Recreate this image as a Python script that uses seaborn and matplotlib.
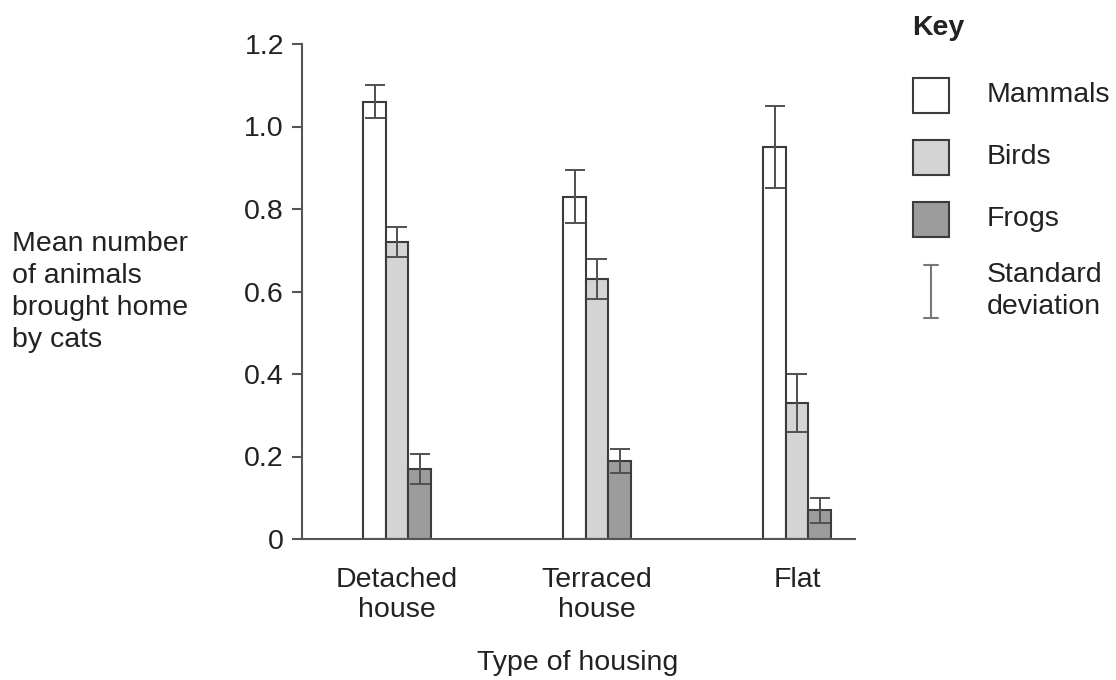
import matplotlib
matplotlib.use("Agg")
import matplotlib.pyplot as plt
import numpy as np
import pandas as pd
import seaborn as sns
from matplotlib.patches import Rectangle
from matplotlib.lines import Line2D

# ---- data ----
HOUSING = ["Detached\nhouse", "Terraced\nhouse", "Flat"]
ANIMALS = ["Mammals", "Birds", "Frogs"]
MAMMALS_MEAN = [1.06, 0.83, 0.95]
BIRDS_MEAN = [0.72, 0.63, 0.33]
FROGS_MEAN = [0.17, 0.19, 0.07]
MAMMALS_SD = [0.04, 0.065, 0.10]
BIRDS_SD = [0.037, 0.048, 0.07]
FROGS_SD = [0.036, 0.029, 0.03]
Y_TICKS = [0, 0.2, 0.4, 0.6, 0.8, 1.0, 1.2]
Y_TICK_LABELS = ["0", "0.2", "0.4", "0.6", "0.8", "1.0", "1.2"]

COLORS = {"Mammals": "#ffffff", "Birds": "#d4d4d4", "Frogs": "#9c9c9c"}
EDGE = "#3c3c3c"
AXC = "#555555"
TXT = "#222222"
FS = 20.5

df = pd.DataFrame({
    "housing": HOUSING * 3,
    "animal": np.repeat(ANIMALS, 3),
    "mean": MAMMALS_MEAN + BIRDS_MEAN + FROGS_MEAN,
})
sds = {"Mammals": MAMMALS_SD, "Birds": BIRDS_SD, "Frogs": FROGS_SD}

sns.set_theme(style="white")
plt.rcParams["font.family"] = ["Liberation Sans", "DejaVu Sans"]

fig = plt.figure(figsize=(11.16, 6.8), dpi=100)
ax = fig.add_axes([302 / 1116, 1 - 539 / 680, (855 - 302) / 1116, (539 - 44) / 680])

sns.barplot(data=df, x="housing", y="mean", hue="animal", order=HOUSING,
            hue_order=ANIMALS, palette=COLORS, width=0.3375, gap=0,
            edgecolor=EDGE, linewidth=1.5, errorbar=None, legend=False, ax=ax)

# standard deviation bars on top of each bar
for cont, animal in zip(ax.containers, ANIMALS):
    xs = [b.get_x() + b.get_width() / 2 for b in cont]
    ys = [b.get_height() for b in cont]
    ax.errorbar(xs, ys, yerr=sds[animal], fmt="none", ecolor="#505050",
                elinewidth=1.4, capsize=7, capthick=1.4, zorder=5)

ax.set_xlim(-0.475, 2.29)
ax.set_ylim(0, 1.2)
ax.set_yticks(Y_TICKS)
ax.set_yticklabels(Y_TICK_LABELS)
ax.set_xlabel("")
ax.set_ylabel("")
sns.despine(ax=ax)
for s in ["left", "bottom"]:
    ax.spines[s].set_color(AXC)
    ax.spines[s].set_linewidth(1.5)
ax.tick_params(axis="y", length=7, width=1.5, color=AXC, labelsize=FS,
               labelcolor=TXT, pad=6, left=True)
ax.tick_params(axis="x", length=0, labelsize=FS, labelcolor=TXT, pad=20)
for lbl in ax.get_xticklabels():
    lbl.set_linespacing(1.2)

fig.text(578 / 1116, 1 - 663 / 680, "Type of housing", ha="center", va="center",
         fontsize=FS, color=TXT)
fig.text(12 / 1116, 1 - 292 / 680, "Mean number\nof animals\nbrought home\nby cats",
         ha="left", va="center", fontsize=FS, color=TXT, linespacing=1.3)

# ---- key ----
def fx(px):
    return px / 1116

def fy(py):
    return 1 - py / 680

fig.text(fx(912), fy(28), "Key", fontsize=FS, fontweight="bold",
         ha="left", va="center", color=TXT)
for animal, top in zip(ANIMALS, [78, 140, 202]):
    fig.patches.append(Rectangle((fx(913), fy(top + 35)), fx(949) - fx(913),
                                 fy(top) - fy(top + 35), transform=fig.transFigure,
                                 facecolor=COLORS[animal], edgecolor=EDGE, linewidth=1.5))
    fig.text(fx(987), fy(top + 17), animal, fontsize=FS, ha="left",
             va="center", color=TXT)
sdc = "#777777"
fig.lines.append(Line2D([fx(931), fx(931)], [fy(265), fy(318)],
                        transform=fig.transFigure, color=sdc, lw=1.5))
for yy in [265, 318]:
    fig.lines.append(Line2D([fx(924), fx(938)], [fy(yy), fy(yy)],
                            transform=fig.transFigure, color=sdc, lw=1.5))
fig.text(fx(987), fy(291), "Standard\ndeviation", fontsize=FS, ha="left",
         va="center", color=TXT, linespacing=1.3)

fig.savefig("out.png", dpi=100)
